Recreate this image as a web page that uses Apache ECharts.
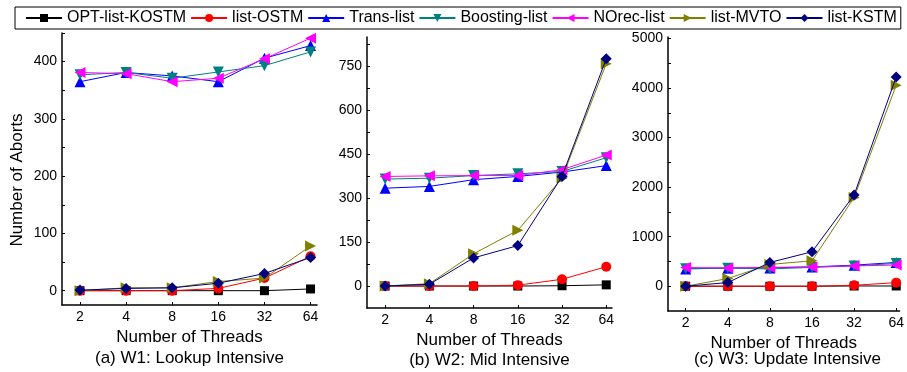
<!DOCTYPE html>
<html>
<head>
<meta charset="utf-8">
<script src="https://cdn.jsdelivr.net/npm/echarts@6/dist/echarts.min.js"></script>
<style>
  html, body { margin: 0; padding: 0; background: #fff; }
  #chart { width: 907px; height: 372px; }
</style>
</head>
<body>
<div id="chart"></div>
<script>
// Thread counts on the x axis
const threads = ['2', '4', '8', '16', '32', '64'];

// Series names
const seriesNames = ['OPT-list-KOSTM', 'list-OSTM', 'Trans-list', 'Boosting-list', 'NOrec-list', 'list-MVTO', 'list-KSTM'];

// W1: Lookup Intensive
const w1OptKostm = [0, 0, 0, 0, 0, 3];
const w1Ostm     = [0, 0, 0, 4, 22, 60];
const w1Trans    = [365, 381, 375, 365, 406, 428];
const w1Boosting = [377, 381, 371, 382, 393, 417];
const w1Norec    = [381, 379, 365, 371, 405, 441];
const w1Mvto     = [0, 5, 5, 16, 22, 78];
const w1Kstm     = [1, 4, 5, 13, 30, 58];

// W2: Mid Intensive
const w2OptKostm = [0, 0, 0, 0, 1, 4];
const w2Ostm     = [0, 0, 0, 3, 23, 66];
const w2Trans    = [334, 340, 363, 374, 389, 411];
const w2Boosting = [365, 368, 377, 383, 391, 438];
const w2Norec    = [374, 376, 377, 377, 397, 447];
const w2Mvto     = [0, 8, 110, 190, 368, 759];
const w2Kstm     = [0, 6, 96, 138, 374, 776];

// W3: Update Intensive
const w3OptKostm = [0, 0, 0, 0, 5, 5];
const w3Ostm     = [0, 0, 0, 0, 20, 72];
const w3Trans    = [350, 365, 370, 390, 425, 480];
const w3Boosting = [355, 365, 350, 380, 410, 460];
const w3Norec    = [378, 370, 380, 390, 410, 428];
const w3Mvto     = [0, 155, 440, 513, 1790, 4056];
const w3Kstm     = [0, 74, 480, 695, 1842, 4224];

// Y-axis tick labels per panel
const w1Ticks = [0, 100, 200, 300, 400];
const w2Ticks = [0, 150, 300, 450, 600, 750];
const w3Ticks = [0, 1000, 2000, 3000, 4000, 5000];

const panelData = [
  [w1OptKostm, w1Ostm, w1Trans, w1Boosting, w1Norec, w1Mvto, w1Kstm],
  [w2OptKostm, w2Ostm, w2Trans, w2Boosting, w2Norec, w2Mvto, w2Kstm],
  [w3OptKostm, w3Ostm, w3Trans, w3Boosting, w3Norec, w3Mvto, w3Kstm]
];
const panelTicks = [w1Ticks, w2Ticks, w3Ticks];
const panelTitles = ['(a) W1: Lookup Intensive', '(b) W2: Mid Intensive', '(c) W3: Update Intensive'];

const colors = ['#000000', '#ff0000', '#0000ff', '#008080', '#ff00ff', '#808000', '#000080'];
const symbols = ['rect', 'circle', 'triangle', 'triangle', 'triangle', 'triangle', 'diamond'];
const rotations = [0, 0, 0, 180, 90, -90, 0];
const sizes = [9, 10, 11, 11, 11, 11, 11];

const FONT = 'Liberation Sans, Arial, sans-serif';

// Panel geometry
const grids = [
  { left: 62,  top: 33, width: 255, height: 272 },
  { left: 367, top: 37, width: 245, height: 271 },
  { left: 668, top: 37, width: 239, height: 274 }
];
const xRanges = [[-0.39, 5.14], [-0.41, 5.13], [-0.42, 5.08]];
const yRanges = [[-25, 450], [-75, 850], [-500, 5030]];
const titleY = [358, 360, 359];

function halfSteps(ticks, max) {
  const step = ticks[1] - ticks[0];
  const out = [];
  for (let v = 0; v <= max; v += step / 2) out.push(v);
  return out;
}

const xAxes = [], yAxes = [], series = [], graphics = [];
const idx = threads.map((_, i) => i);

grids.forEach((g, p) => {
  xAxes.push({
    gridIndex: p, type: 'value', min: xRanges[p][0], max: xRanges[p][1],
    name: 'Number of Threads', nameLocation: 'middle', nameGap: 21,
    nameTextStyle: { fontFamily: FONT, fontSize: 17, color: '#000' },
    axisLine: { show: true, onZero: false, lineStyle: { color: '#000', width: 1.5 } },
    axisTick: { show: true, inside: true, length: 3, customValues: idx, lineStyle: { color: '#000' } },
    axisLabel: { customValues: idx, formatter: v => threads[Math.round(v)], fontFamily: FONT, fontSize: 14, color: '#000', margin: 5 },
    splitLine: { show: false }
  });
  yAxes.push({
    gridIndex: p, type: 'value', min: yRanges[p][0], max: yRanges[p][1],
    axisLine: { show: true, onZero: false, lineStyle: { color: '#000', width: 1.5 } },
    axisTick: { show: true, inside: true, length: 3, customValues: halfSteps(panelTicks[p], yRanges[p][1]), lineStyle: { color: '#000' } },
    axisLabel: { customValues: panelTicks[p], formatter: v => String(v), fontFamily: FONT, fontSize: 14, color: '#000', margin: 5 },
    splitLine: { show: false }
  });
  panelData[p].forEach((vals, s) => {
    series.push({
      name: seriesNames[s], type: 'line', xAxisIndex: p, yAxisIndex: p,
      data: vals.map((v, i) => [i, v]),
      symbol: symbols[s], symbolSize: sizes[s], symbolRotate: rotations[s],
      showAllSymbol: true,
      lineStyle: { color: colors[s], width: 1 },
      itemStyle: { color: colors[s] },
      z: 2 + s
    });
  });
  graphics.push({
    type: 'text', x: g.left + g.width / 2, y: titleY[p],
    style: { text: panelTitles[p], font: '17px ' + FONT, fill: '#000', textAlign: 'center', textVerticalAlign: 'middle' }
  });
});

graphics.push({
  type: 'text', x: 17, y: 180, rotation: Math.PI / 2,
  style: { text: 'Number of Aborts', font: '17px ' + FONT, fill: '#000', textAlign: 'center', textVerticalAlign: 'middle' }
});

const chart = echarts.init(document.getElementById('chart'), null, { renderer: 'canvas' });
chart.setOption({
  animation: false,
  backgroundColor: '#fff',
  legend: {
    data: seriesNames, left: 15, top: 7, width: 890,
    itemWidth: 36, itemHeight: 10, itemGap: 4,
    padding: [3, 4, 3, 10],
    borderColor: '#000', borderWidth: 1,
    textStyle: { fontFamily: FONT, fontSize: 16, color: '#000' }
  },
  grid: grids.map(g => Object.assign({ containLabel: false }, g)),
  xAxis: xAxes,
  yAxis: yAxes,
  series: series,
  graphic: graphics
});
</script>
</body>
</html>
